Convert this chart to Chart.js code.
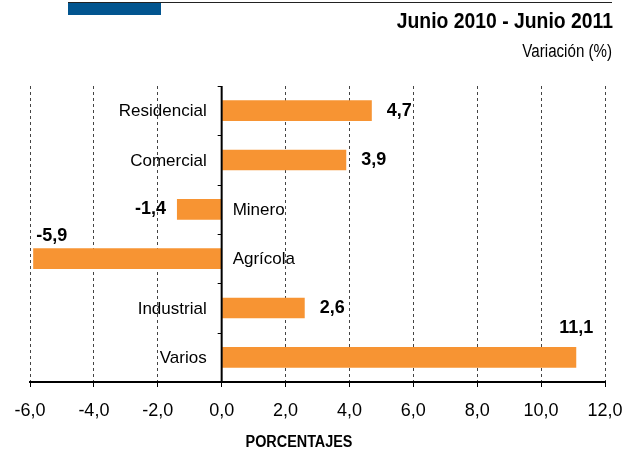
<!DOCTYPE html>
<html>
<head>
<meta charset="utf-8">
<script src="https://cdn.jsdelivr.net/npm/chart.js@4"></script>
<style>
  body { margin: 0; background: #fff; }
  #wrap { position: relative; width: 633px; height: 451px; }
  canvas { position: absolute; left: 0; top: 0; }
</style>
</head>
<body>
<div id="wrap"><canvas id="grafico" width="633" height="451"></canvas></div>
<script>
// DATOS
const categorias = ["Residencial", "Comercial", "Minero", "Agrícola", "Industrial", "Varios"];
const variacion = [4.7, 3.9, -1.4, -5.9, 2.6, 11.1];
const ticksX = [-6, -4, -2, 0, 2, 4, 6, 8, 10, 12];

const titulo = "Junio 2010 - Junio 2011";
const subtitulo = "Variación (%)";
const tituloEje = "PORCENTAJES";

const fmt = v => v.toFixed(1).replace(".", ",");

// texto angosto (no hay Arial Narrow instalada)
function textoAngosto(ctx, txt, x, y, escala) {
    ctx.save();
    ctx.translate(x, y);
    ctx.scale(escala, 1);
    ctx.fillText(txt, 0, 0);
    ctx.restore();
}

// CABECERA, ETIQUETAS Y EJE CERO
const extras = {
    id: "extras",
    afterDatasetsDraw(chart) {
        const ctx = chart.ctx;
        const area = chart.chartArea;
        const x = chart.scales.x;
        const x0 = x.getPixelForValue(0);
        ctx.save();

        // cabecera
        ctx.fillStyle = "#02558F";
        ctx.fillRect(68, 2, 93, 13);
        ctx.strokeStyle = "#222";
        ctx.lineWidth = 1;
        ctx.beginPath();
        ctx.moveTo(68, 2.5);
        ctx.lineTo(612, 2.5);
        ctx.stroke();
        ctx.fillStyle = "#000";
        ctx.textAlign = "right";
        ctx.textBaseline = "alphabetic";
        ctx.font = "bold 22px 'Liberation Sans', Arial, sans-serif";
        textoAngosto(ctx, titulo, 613, 28, 0.88);
        ctx.font = "18px 'Liberation Sans', Arial, sans-serif";
        textoAngosto(ctx, subtitulo, 612, 57, 0.84);

        // eje cero
        ctx.strokeStyle = "#000";
        ctx.lineWidth = 2;
        ctx.beginPath();
        ctx.moveTo(x0, area.top);
        ctx.lineTo(x0, area.bottom);
        ctx.stroke();
        ctx.lineWidth = 1;
        const paso = (area.bottom - area.top) / categorias.length;
        for (let i = 0; i <= categorias.length; i++) {
            const yy = Math.round(area.top + i * paso) + 0.5;
            ctx.beginPath();
            ctx.moveTo(x0 - 4, yy);
            ctx.lineTo(x0, yy);
            ctx.stroke();
        }

        // etiquetas
        const meta = chart.getDatasetMeta(0);
        meta.data.forEach((bar, i) => {
            const v = variacion[i];
            const yc = bar.y;
            ctx.fillStyle = "#000";
            ctx.textBaseline = "middle";
            ctx.font = "17px 'Liberation Sans', Arial, sans-serif";
            if (v >= 0) {
                ctx.textAlign = "right";
                ctx.fillText(categorias[i], x0 - 15, yc + 1);
            } else {
                ctx.textAlign = "left";
                ctx.fillText(categorias[i], x0 + 11, yc + 1);
            }
            ctx.font = "bold 18px 'Liberation Sans', Arial, sans-serif";
            const fuera = v >= 0 ? area.right - bar.x < 40 : bar.x - area.left < 40;
            if (fuera) {
                if (v >= 0) {
                    ctx.textAlign = "center";
                    ctx.fillText(fmt(v), bar.x, yc - 29);
                } else {
                    ctx.textAlign = "left";
                    ctx.fillText(fmt(v), bar.x + 3, yc - 23);
                }
            } else if (v >= 0) {
                ctx.textAlign = "left";
                ctx.fillText(fmt(v), bar.x + 15, yc);
            } else {
                ctx.textAlign = "right";
                ctx.fillText(fmt(v), bar.x - 11, yc);
            }
        });

        // titulo eje
        ctx.font = "bold 16px 'Liberation Sans', Arial, sans-serif";
        ctx.textAlign = "center";
        ctx.textBaseline = "middle";
        textoAngosto(ctx, tituloEje, 299, 443, 0.9);
        ctx.restore();
    }
};

new Chart(document.getElementById("grafico"), {
    type: "bar",
    data: {
        labels: categorias,
        datasets: [{
            data: variacion,
            backgroundColor: "#F79433",
            borderWidth: 0,
            barPercentage: 0.42,
            categoryPercentage: 1
        }]
    },
    options: {
        indexAxis: "y",
        responsive: false,
        animation: false,
        layout: { padding: { left: 30, right: 28, top: 86, bottom: 0 } },
        plugins: {
            legend: { display: false },
            tooltip: { enabled: false }
        },
        scales: {
            x: {
                min: -6,
                max: 12,
                afterBuildTicks: s => { s.ticks = ticksX.map(v => ({ value: v })); },
                afterFit: s => { s.height = 69; s.paddingLeft = 0; s.paddingRight = 0; },
                ticks: {
                    callback: v => fmt(v),
                    color: "#000",
                    padding: 13,
                    maxRotation: 0,
                    minRotation: 0,
                    autoSkip: false,
                    font: { family: "'Liberation Sans', Arial, sans-serif", size: 18 }
                },
                grid: {
                    color: c => c.tick && c.tick.value === 0 ? "rgba(0,0,0,0)" : "#444",
                    lineWidth: 1,
                    tickLength: 5,
                    tickColor: "#000",
                    tickBorderDash: []
                },
                border: { display: true, color: "#000", width: 2, dash: [3, 3] }
            },
            y: {
                display: false
            }
        }
    },
    plugins: [extras]
});
</script>
</body>
</html>
